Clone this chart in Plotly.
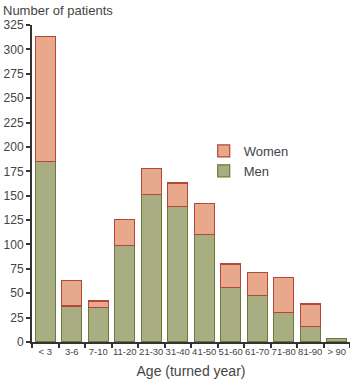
import plotly.graph_objects as go

categories = ["< 3", "3-6", "7-10", "11-20", "21-30", "31-40", "41-50",
              "51-60", "61-70", "71-80", "81-90", "> 90"]
men = [185, 37, 35, 99, 151, 139, 110, 56, 48, 30, 16, 4]
totals = [313, 63, 42, 126, 178, 163, 142, 80, 71, 66, 39, 4]
women = [(t - m) if t > m else None for t, m in zip(totals, men)]
y_ticks = list(range(0, 326, 25))

FONT = "Liberation Sans"
TXT = "#444444"

fig = go.Figure()
fig.add_trace(go.Bar(
    x=categories, y=men, name="Men",
    marker=dict(color="#a9ad82", line=dict(color="#6b7838", width=1.2)),
))
fig.add_trace(go.Bar(
    x=categories, y=women, name="Women",
    marker=dict(color="#e7a88c", line=dict(color="#b3473a", width=1.2)),
))

fig.update_layout(
    width=350, height=380,
    margin=dict(l=32, r=0, t=25, b=38, autoexpand=False),
    barmode="stack", bargap=0.25,
    plot_bgcolor="white", paper_bgcolor="white",
    font=dict(family=FONT, color=TXT, size=12),
    showlegend=True,
    legend=dict(x=0.54, y=0.65, xanchor="left", yanchor="top",
                traceorder="reversed", font=dict(size=13, color=TXT),
                itemwidth=30, tracegroupgap=0, bgcolor="rgba(0,0,0,0)"),
    xaxis=dict(
        showline=True, linecolor="#333333", linewidth=2,
        ticks="outside", tickson="boundaries", ticklen=4, tickwidth=1.5,
        tickcolor="#333333", tickangle=0, automargin=False,
        tickfont=dict(size=9.5, color=TXT),
        title=dict(text="Age (turned year)", font=dict(size=14, color=TXT), standoff=10),
        showgrid=False,
    ),
    yaxis=dict(
        range=[0, 325], tickvals=y_ticks, automargin=False,
        showline=True, linecolor="#333333", linewidth=2,
        ticks="outside", ticklen=4, tickwidth=1.5, tickcolor="#333333",
        tickfont=dict(size=12, color=TXT),
        showgrid=False, zeroline=False,
    ),
    annotations=[dict(
        text="Number of patients", xref="paper", yref="paper",
        x=-31/318, y=1 + 15/317, xanchor="left", yanchor="middle",
        showarrow=False, font=dict(size=13, color=TXT),
    )],
)

fig.write_html("out.html")
